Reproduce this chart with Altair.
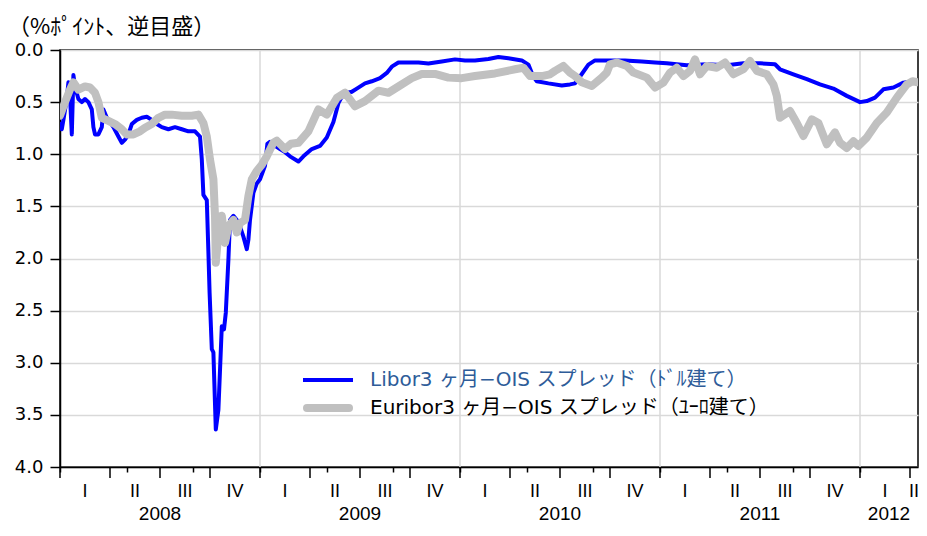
import altair as alt
import pandas as pd

# ---- data (decimal year, spread in %pt) ----
libor_t = [2008.000, 2008.009, 2008.017, 2008.034, 2008.042, 2008.050, 2008.059, 2008.067, 2008.075,
           2008.092, 2008.109, 2008.125, 2008.142, 2008.159, 2008.167, 2008.175, 2008.192, 2008.209,
           2008.217, 2008.234, 2008.250, 2008.267, 2008.292, 2008.309, 2008.325, 2008.342, 2008.359,
           2008.384, 2008.409, 2008.434, 2008.459, 2008.484, 2008.509, 2008.542, 2008.575, 2008.609,
           2008.642, 2008.675, 2008.700, 2008.709, 2008.717, 2008.734, 2008.742, 2008.748, 2008.759,
           2008.767, 2008.779, 2008.792, 2008.809, 2008.820, 2008.829, 2008.842, 2008.850, 2008.867,
           2008.892, 2008.917, 2008.934, 2008.942, 2008.950, 2008.967, 2008.984, 2009.000, 2009.025,
           2009.037, 2009.050, 2009.075, 2009.100, 2009.125, 2009.150, 2009.192, 2009.217, 2009.259,
           2009.300, 2009.334, 2009.367, 2009.392, 2009.417, 2009.459, 2009.484, 2009.525, 2009.559,
           2009.600, 2009.634, 2009.659, 2009.692, 2009.742, 2009.792, 2009.842, 2009.909, 2009.975,
           2010.025, 2010.075, 2010.142, 2010.192, 2010.242, 2010.309, 2010.342, 2010.365, 2010.384,
           2010.442, 2010.509, 2010.550, 2010.575, 2010.609, 2010.642, 2010.675, 2010.742, 2010.825,
           2010.865, 2010.909, 2010.975, 2011.034, 2011.134, 2011.234, 2011.334, 2011.417, 2011.500,
           2011.575, 2011.600, 2011.667, 2011.734, 2011.800, 2011.867, 2011.934, 2012.000, 2012.034,
           2012.075, 2012.117, 2012.167, 2012.217, 2012.260, 2012.288]
libor_v = [0.69, 0.76, 0.67, 0.47, 0.31, 0.44, 0.81, 0.24, 0.35,
           0.47, 0.50, 0.47, 0.50, 0.57, 0.74, 0.81, 0.81, 0.74,
           0.57, 0.65, 0.69, 0.74, 0.83, 0.89, 0.86, 0.81, 0.71,
           0.67, 0.65, 0.64, 0.67, 0.71, 0.74, 0.76, 0.74, 0.76,
           0.78, 0.78, 0.83, 1.05, 1.39, 1.44, 1.94, 2.33, 2.87,
           2.90, 3.64, 3.45, 2.65, 2.68, 2.52, 2.01, 1.63, 1.59,
           1.65, 1.79, 1.91, 1.82, 1.63, 1.37, 1.28, 1.24, 1.11,
           0.90, 0.88, 0.92, 0.95, 0.98, 1.02, 1.07, 1.02, 0.95,
           0.92, 0.84, 0.69, 0.51, 0.42, 0.40, 0.37, 0.32, 0.30,
           0.27, 0.22, 0.16, 0.12, 0.12, 0.12, 0.13, 0.11, 0.09,
           0.10, 0.10, 0.086, 0.067, 0.08, 0.10, 0.14, 0.25, 0.30,
           0.32, 0.34, 0.33, 0.32, 0.23, 0.14, 0.10, 0.10, 0.10,
           0.105, 0.11, 0.12, 0.128, 0.147, 0.137, 0.147, 0.128, 0.128,
           0.137, 0.185, 0.233, 0.28, 0.33, 0.37, 0.44, 0.50, 0.49,
           0.457, 0.377, 0.36, 0.313, 0.30, 0.30]

euribor_t = [2008.000, 2008.025, 2008.050, 2008.067, 2008.092, 2008.125, 2008.150, 2008.175, 2008.192,
             2008.209, 2008.242, 2008.275, 2008.309, 2008.334, 2008.367, 2008.400, 2008.425, 2008.459,
             2008.492, 2008.525, 2008.559, 2008.609, 2008.659, 2008.692, 2008.717, 2008.734, 2008.750,
             2008.767, 2008.775, 2008.779, 2008.792, 2008.809, 2008.825, 2008.842, 2008.867, 2008.884,
             2008.900, 2008.925, 2008.942, 2008.959, 2008.984, 2009.009, 2009.034, 2009.067, 2009.084,
             2009.125, 2009.155, 2009.192, 2009.242, 2009.292, 2009.334, 2009.384, 2009.425, 2009.475,
             2009.525, 2009.592, 2009.642, 2009.692, 2009.759, 2009.809, 2009.875, 2009.942, 2010.009,
             2010.075, 2010.175, 2010.275, 2010.317, 2010.350, 2010.409, 2010.450, 2010.475, 2010.517,
             2010.550, 2010.575, 2010.609, 2010.659, 2010.709, 2010.734, 2010.750, 2010.784, 2010.834,
             2010.867, 2010.934, 2010.975, 2011.017, 2011.050, 2011.084, 2011.117, 2011.150, 2011.175,
             2011.200, 2011.234, 2011.284, 2011.325, 2011.367, 2011.417, 2011.450, 2011.484, 2011.534,
             2011.567, 2011.584, 2011.600, 2011.650, 2011.684, 2011.717, 2011.759, 2011.792, 2011.834,
             2011.875, 2011.900, 2011.934, 2011.967, 2011.992, 2012.034, 2012.084, 2012.134, 2012.184,
             2012.234, 2012.262, 2012.288]
euribor_v = [0.63, 0.50, 0.38, 0.31, 0.38, 0.35, 0.36, 0.41, 0.50,
             0.65, 0.68, 0.71, 0.76, 0.81, 0.81, 0.78, 0.745, 0.71,
             0.65, 0.62, 0.62, 0.63, 0.63, 0.62, 0.70, 0.83, 1.05,
             1.24, 1.59, 2.04, 1.75, 1.59, 1.85, 1.69, 1.63, 1.75,
             1.66, 1.63, 1.40, 1.24, 1.16, 1.10, 1.02, 0.89, 0.87,
             0.95, 0.90, 0.89, 0.78, 0.57, 0.62, 0.46, 0.41, 0.54,
             0.49, 0.39, 0.41, 0.35, 0.27, 0.23, 0.23, 0.265, 0.27,
             0.25, 0.225, 0.185, 0.17, 0.25, 0.25, 0.233, 0.20, 0.153,
             0.217, 0.25, 0.31, 0.345, 0.265, 0.217, 0.137, 0.12, 0.153,
             0.217, 0.265, 0.36, 0.313, 0.217, 0.17, 0.25, 0.20, 0.09,
             0.233, 0.153, 0.17, 0.12, 0.233, 0.185, 0.105, 0.20, 0.233,
             0.33, 0.44, 0.65, 0.585, 0.70, 0.825, 0.665, 0.70, 0.905,
             0.79, 0.89, 0.94, 0.875, 0.92, 0.84, 0.70, 0.60, 0.457,
             0.33, 0.30, 0.31]

series_names = ["Libor3 ヶ月−OIS スプレッド（ﾄﾞﾙ建て）", "Euribor3 ヶ月−OIS スプレッド（ﾕｰﾛ建て）"]
y_ticks = [0.0, 0.5, 1.0, 1.5, 2.0, 2.5, 3.0, 3.5, 4.0]
years = [2008, 2009, 2010, 2011, 2012]
quarter_names = ["I", "II", "III", "IV"]
y_axis_title = "（%ﾎﾟｲﾝﾄ、逆目盛）"

W, H = 858, 417
X0, X1 = 2008.0, 2008.0 + W / 200
TOP, LEFT = 42, 52

# ---- tables ----
libor = pd.DataFrame({"t": libor_t, "v": libor_v})
euribor = pd.DataFrame({"t": euribor_t, "v": euribor_v})

month_ticks = [2008 + m / 12 for m in range(0, 52) if 2008 + m / 12 <= X1]
quarter_bounds = pd.DataFrame({"t": [2008 + q / 4 for q in range(0, 18) if 2008 + q / 4 <= X1]})
q_rows = []
for yr in years:
    for i, qn in enumerate(quarter_names):
        s, e = yr + i / 4, yr + (i + 1) / 4
        s2, e2 = max(s, X0), min(e, X1)
        if s2 < e2:
            q_rows.append({"t": (s2 + e2) / 2, "label": qn})
qlabels = pd.DataFrame(q_rows)
ylabels = pd.DataFrame({"t": [(max(y, X0) + min(y + 1, X1)) / 2 for y in years],
                        "label": [str(y) for y in years]})
year_grid = pd.DataFrame({"t": years[1:]})

xs = alt.Scale(domain=[X0, X1], nice=False, zero=False)
ys = alt.Scale(domain=[0, 4], reverse=True, nice=False, zero=False)

grid_c = "#D9D9D9"
mixed_font = "DejaVu Sans, Noto Sans CJK JP"

vgrid = alt.Chart(year_grid).mark_rule(color=grid_c, strokeWidth=1.5).encode(
    x=alt.X("t:Q", scale=xs, title=None))

libor_line = alt.Chart(libor).mark_line(color="#0000FF", strokeWidth=4, strokeJoin="round",
                                        clip=True).encode(
    x=alt.X("t:Q", scale=xs, title=None,
            axis=alt.Axis(values=month_ticks, labels=False, tickSize=5, grid=False,
                          domainColor="black", tickColor="black", domainWidth=1.5, tickWidth=1.5)),
    y=alt.Y("v:Q", scale=ys, title=None,
            axis=alt.Axis(values=y_ticks, format=".1f", tickSize=10, tickColor="black",
                          tickWidth=1.5, domainColor="black", domainWidth=1.5,
                          grid=True, gridColor=grid_c, gridWidth=1.5,
                          labelFont="DejaVu Sans", labelFontSize=18, labelColor="black",
                          labelPadding=7)),
)

euribor_line = alt.Chart(euribor).mark_line(color="#C0C0C0", strokeWidth=8, strokeJoin="round",
                                            strokeCap="round", clip=True).encode(
    x=alt.X("t:Q", scale=xs, title=None),
    y=alt.Y("v:Q", scale=ys, title=None),
)

qticks = alt.Chart(quarter_bounds).mark_rule(color="black", strokeWidth=1.5).encode(
    x=alt.X("t:Q", scale=xs, title=None), y=alt.value(H), y2=alt.value(H + 11))

qtext = alt.Chart(qlabels).mark_text(font="Liberation Sans", fontSize=18, color="black",
                                     baseline="middle").encode(
    x=alt.X("t:Q", scale=xs, title=None), y=alt.value(H + 25), text="label:N")

ytext = alt.Chart(ylabels).mark_text(font="Liberation Sans", fontSize=19, color="black",
                                     baseline="middle").encode(
    x=alt.X("t:Q", scale=xs, title=None), y=alt.value(H + 47), text="label:N")

ytitle = alt.Chart(pd.DataFrame({"label": [y_axis_title]})).mark_text(
    font="Noto Sans CJK JP", fontSize=22, color="black", align="left", baseline="middle").encode(
    x=alt.value(-LEFT), y=alt.value(-23), text="label:N")

leg_df = pd.DataFrame({"label": series_names})
leg1_line = alt.Chart(leg_df.iloc[:1]).mark_rule(color="#0000FF", strokeWidth=4).encode(
    x=alt.value(243), x2=alt.value(293), y=alt.value(330))
leg2_line = alt.Chart(leg_df.iloc[1:]).mark_rule(color="#C0C0C0", strokeWidth=8, strokeCap="round").encode(
    x=alt.value(247), x2=alt.value(289), y=alt.value(358))
leg1_text = alt.Chart(leg_df.iloc[:1]).mark_text(font=mixed_font, fontSize=20, color="#2E5C99",
                                                 align="left", baseline="middle").encode(
    x=alt.value(310), y=alt.value(330), text="label:N")
leg2_text = alt.Chart(leg_df.iloc[1:]).mark_text(font=mixed_font, fontSize=20, color="black",
                                                 align="left", baseline="middle").encode(
    x=alt.value(310), y=alt.value(358), text="label:N")

chart = alt.layer(vgrid, libor_line, euribor_line, qticks, qtext, ytext, ytitle,
                  leg1_line, leg2_line, leg1_text, leg2_text).properties(
    width=W, height=H,
    padding={"left": LEFT, "top": TOP, "right": 1, "bottom": 57},
    autosize=alt.AutoSizeParams(type="none"),
).configure_view(stroke="black", strokeWidth=1.5)

chart.save("out.html", embed_options={"renderer": "svg", "actions": False})
